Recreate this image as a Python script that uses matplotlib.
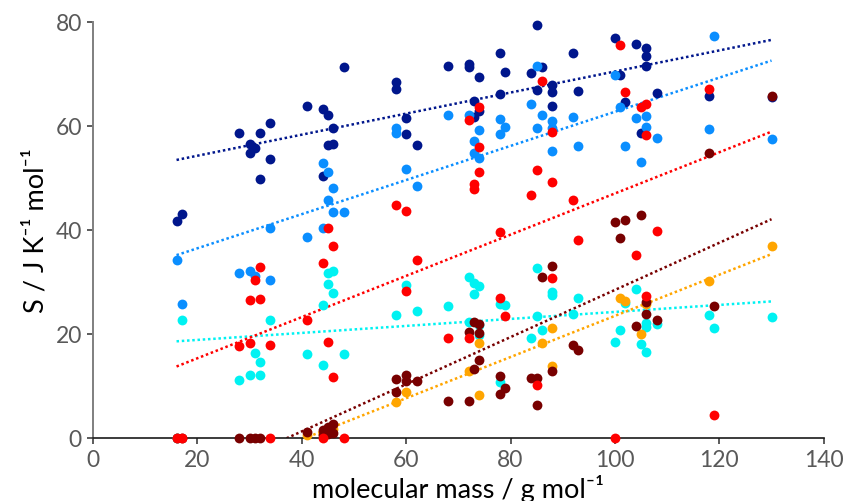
import numpy as np
import matplotlib.pyplot as plt

plt.rcParams['font.family'] = ['Lato', 'DejaVu Sans']

# molecular mass (g/mol) and entropy (J/K/mol) for each data set
dark_blue_mass = [16, 17, 28, 30, 30, 31, 32, 32, 34, 34,
                  41, 44, 44, 45, 45, 46, 46, 48,
                  58, 58, 60, 60, 62, 68, 72, 72,
                  73, 73, 74, 74, 78, 78, 79,
                  84, 85, 85, 86, 88, 88, 88,
                  92, 93, 100, 101, 102, 104, 105, 106, 106, 106, 108,
                  118, 130]
dark_blue_s = [41.7, 43.0, 58.7, 56.5, 54.8, 55.7, 58.7, 49.9, 60.6, 53.7,
               63.8, 63.3, 50.3, 62.1, 56.3, 59.6, 56.5, 71.3,
               68.5, 67.1, 61.5, 58.5, 56.4, 71.6, 71.9, 71.3,
               64.9, 61.7, 69.5, 62.8, 74.0, 66.1, 70.4,
               70.1, 79.5, 67.0, 71.3, 67.8, 66.6, 63.8,
               74.0, 66.8, 76.9, 69.9, 64.7, 75.7, 58.6, 75.0, 73.5, 71.5, 66.3,
               65.7, 65.5]

blue_mass = [16, 17, 28, 30, 31, 34, 34,
             41, 44, 44, 45, 45, 46, 46, 48,
             58, 58, 60, 62, 68, 72,
             73, 73, 74, 74, 78, 78, 79,
             84, 85, 85, 86, 88, 88, 88,
             92, 93, 100, 101, 102, 104, 105, 106, 106, 108,
             118, 119, 130]
blue_s = [34.3, 25.8, 31.8, 32.1, 31.2, 40.3, 30.4,
          38.7, 52.8, 40.4, 51.1, 45.7, 48.1, 43.5, 43.5,
          59.6, 58.7, 51.7, 48.4, 62.1, 62.1,
          57.2, 54.8, 59.3, 53.8, 61.3, 58.5, 59.9,
          64.2, 71.5, 59.6, 62.1, 60.9, 59.7, 55.1,
          61.7, 56.2, 69.9, 63.6, 56.2, 61.6, 53.1, 62.0, 59.9, 57.6,
          59.4, 77.4, 57.5]

red_mass = [16, 17, 28, 30, 30, 31, 32, 32, 34, 34,
            41, 44, 44, 45, 45, 46, 46, 48,
            58, 60, 60, 62, 68, 72, 72,
            73, 73, 74, 74, 74, 78, 78, 79,
            84, 85, 85, 86, 88, 88, 88,
            92, 93, 100, 101, 102, 104, 105, 106, 106, 106, 108,
            118, 119]
red_s = [0, 0, 17.7, 26.5, 18.2, 30.3, 32.8, 26.8, 17.9, 0,
         22.6, 33.6, 0, 40.4, 18.4, 36.9, 11.7, 0,
         44.9, 43.7, 28.2, 34.2, 19.2, 19.2, 61.2,
         48.8, 47.9, 63.7, 55.9, 51.2, 39.6, 27.0, 23.5,
         46.7, 51.5, 10.2, 68.7, 49.2, 30.7, 58.8,
         45.7, 38.1, 0, 75.5, 66.5, 35.1, 63.6, 64.2, 58.3, 27.4, 39.8,
         67.2, 4.4]

cyan_mass = [16, 17, 28, 30, 31, 32, 32, 34,
             41, 44, 44, 45, 45, 46, 46, 48,
             58, 60, 62, 68, 72, 72,
             73, 73, 74, 74, 74, 78, 79, 78,
             84, 85, 85, 86, 88, 88,
             92, 93, 100, 101, 102, 104, 105, 106, 106, 106, 108,
             118, 119, 130]
cyan_s = [0, 22.7, 11.2, 12.1, 16.4, 14.7, 12.1, 22.7,
          16.1, 25.6, 14.0, 31.7, 29.6, 32.1, 27.9, 16.1,
          23.7, 29.5, 24.5, 25.3, 31.0, 22.4,
          29.9, 27.6, 29.2, 21.8, 19.9, 25.8, 25.6, 10.8,
          19.2, 32.6, 23.5, 20.8, 28.1, 27.5,
          23.9, 26.9, 18.5, 20.8, 26.0, 28.7, 18.1, 22.2, 21.3, 16.5, 21.9,
          23.7, 21.2, 23.3]

orange_mass = [41, 44, 46, 58, 60, 72, 74, 74, 86, 88, 88,
               101, 102, 105, 106, 118, 130]
orange_s = [0.5, 0.8, 1.8, 6.9, 8.9, 12.8, 18.2, 8.3, 18.3, 21.2, 13.9,
            27.0, 26.4, 20.0, 25.8, 30.1, 36.9]

maroon_mass = [16, 17, 28, 30, 31, 32,
               41, 44, 44, 45, 45, 46, 46,
               58, 58, 60, 60, 62, 68, 72, 72,
               73, 74, 74, 74, 73, 78, 79, 78,
               84, 85, 85, 86, 88, 88,
               92, 93, 100, 101, 102, 104, 105, 106, 106, 108,
               118, 119, 130]
maroon_s = [0, 0, 0, 0, 0, 0,
            1.2, 1.5, 0.5, 2.2, 0.8, 2.7, 1.0,
            11.3, 8.8, 12.2, 11.0, 10.9, 7.1, 7.1, 20.4,
            22.4, 22.0, 20.2, 15.0, 13.3, 12.0, 9.6, 8.5,
            11.6, 11.6, 6.3, 30.9, 33.1, 12.9,
            17.8, 16.9, 41.5, 38.5, 41.9, 21.6, 42.8, 26.1, 23.8, 22.6,
            54.8, 25.3, 65.7]

# drawing order: later sets sit on top
series = [
    (dark_blue_mass, dark_blue_s, '#00168C'),
    (blue_mass, blue_s, '#0A8EFF'),
    (cyan_mass, cyan_s, '#00F2F2'),
    (orange_mass, orange_s, '#FFA500'),
    (maroon_mass, maroon_s, '#780000'),
    (red_mass, red_s, '#FF0000'),
]

all_mass = np.concatenate([m for m, s, c in series])
x_fit = np.array([all_mass.min(), all_mass.max()])

fig = plt.figure(figsize=(8.45, 5.02), dpi=100)
ax = fig.add_axes([0.1101, 0.1255, 0.8647, 0.8287])

for mass, s, color in series:
    ax.scatter(mass, s, s=50, color=color, linewidths=0, zorder=3, clip_on=False)

# linear trend lines over the full mass range
for mass, s, color in series:
    k, b = np.polyfit(mass, s, 1)
    ax.plot(x_fit, k * x_fit + b, color=color, lw=1.8, linestyle=(0, (1, 1.1)),
            dash_capstyle='butt', zorder=2)

ax.set_xlim(0, 140)
ax.set_ylim(0, 80)
ax.set_xticks(range(0, 141, 20))
ax.set_yticks(range(0, 81, 20))

ax.spines['top'].set_visible(False)
ax.spines['right'].set_visible(False)
ax.spines['left'].set_color('#7f7f7f')
ax.spines['left'].set_linewidth(1.4)
ax.spines['bottom'].set_color('#1a1a1a')
ax.spines['bottom'].set_linewidth(1.2)
ax.tick_params(axis='both', direction='out', length=4, width=1.2, color='#404040',
               labelsize=16.5, labelcolor='#595959', pad=4)

ax.set_xlabel('molecular mass / g mol\u207b\u00b9', fontsize=19.5, labelpad=3)
ax.set_ylabel('S / J K\u207b\u00b9 mol\u207b\u00b9', fontsize=19.5, labelpad=5)

plt.savefig('out.png', dpi=100)
